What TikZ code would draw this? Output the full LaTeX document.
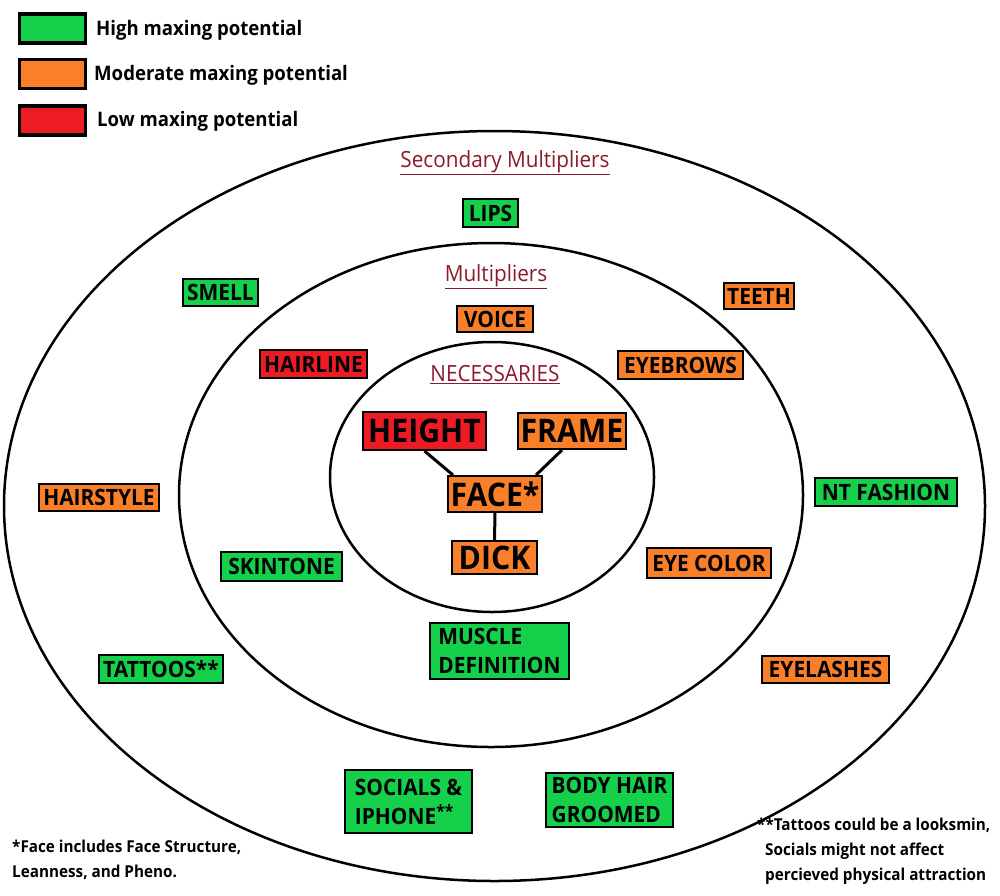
\documentclass[tikz,border=0pt]{standalone}
\usepackage{fontspec}
\setmainfont{Open Sans}
\newfontfamily\boldsans{Open Sans}[FakeStretch=0.93]
\definecolor{hgreen}{RGB}{20,208,75}
\definecolor{morange}{RGB}{249,128,41}
\definecolor{lred}{RGB}{237,28,36}
\definecolor{hdr}{RGB}{139,26,44}
\newcommand{\lblfont}{\boldsans\bfseries\fontsize{22.5}{29}\selectfont}
\newcommand{\bigfont}{\boldsans\bfseries\fontsize{32.5}{34}\selectfont}
\newcommand{\legfont}{\boldsans\bfseries\fontsize{20}{22}\selectfont}
\newcommand{\hdrfont}{\boldsans\fontsize{22.3}{24}\selectfont}
\newcommand{\notefont}{\boldsans\bfseries\fontsize{16.4}{25}\selectfont}
\newcommand{\starsup}{\raisebox{7pt}{\fontsize{17}{17}\selectfont **}}
\tikzset{
  ring/.style={draw=black, line width=2.5pt},
  lbl/.style={draw=black, line width=2pt, inner sep=0pt, font=\lblfont, text=black, align=left},
  big/.style={lbl, font=\bigfont},
  gbox/.style={lbl, fill=hgreen},
  obox/.style={lbl, fill=morange},
  rbox/.style={lbl, fill=lred},
  legbox/.style={draw=black, line width=3.5pt, inner sep=0pt, minimum width=66pt, minimum height=29pt},
  legtxt/.style={anchor=base west, font=\legfont, inner sep=0pt},
  hdrtxt/.style={anchor=base, font=\hdrfont, text=hdr, inner sep=0pt},
  note/.style={anchor=base west, font=\notefont, align=left, inner sep=0pt},
  link/.style={draw=black, line width=3pt}
}
\begin{document}
\begin{tikzpicture}[x=1pt,y=-1pt]
\useasboundingbox[fill=white] (0,0) rectangle (1000,895);
% rings
\draw[ring] (494.5,506) ellipse [x radius=490.5pt, y radius=375pt];
\draw[ring] (491,495) ellipse [x radius=312pt, y radius=252pt];
\draw[ring] (492,477) ellipse [x radius=162pt, y radius=135pt];
% legend
\node[legbox, fill=hgreen] (lg1) at (52.5,28.5) {};
\node[legbox, fill=morange] (lg2) at (52.5,74) {};
\node[legbox, fill=lred] (lg3) at (52.5,120.5) {};
\node[legtxt] (lt1) at (96,35.7) {High maxing potential};
\node[legtxt] (lt2) at (94,80) {Moderate maxing potential};
\node[legtxt] (lt3) at (97,126.7) {Low maxing potential};
% headers
\node[hdrtxt] (h1) at (505,167.3) {\underline{Secondary Multipliers}};
\node[hdrtxt] (h2) at (496,281) {\underline{Multipliers}};
\node[hdrtxt] (h3) at (495,381.7) {\underline{NECESSARIES}};
% secondary
\node[gbox, minimum width=55pt, minimum height=28pt] (lips) at (490.5,213) {LIPS};
\node[gbox, minimum width=75pt, minimum height=27pt] (smell) at (220.5,292.5) {SMELL};
\node[obox, minimum width=70pt, minimum height=26pt] (teeth) at (759,296) {TEETH};
\node[obox, minimum width=120pt, minimum height=27pt] (hairstyle) at (99,497.5) {HAIRSTYLE};
\node[gbox, minimum width=142pt, minimum height=28pt] (ntf) at (886,492) {NT FASHION};
\node[gbox, minimum width=124pt, minimum height=28pt] (tattoos) at (161,669) {TATTOOS**};
\node[obox, minimum width=127pt, minimum height=27pt] (eyelashes) at (825.5,669.5) {EYELASHES};
\node[gbox, minimum width=127pt, minimum height=63pt] (socials) at (408.5,801.5) {SOCIALS \&\\IPHONE\starsup};
\node[gbox, minimum width=127pt, minimum height=54pt] (bodyhair) at (609.5,800) {BODY HAIR\\GROOMED};
% multipliers
\node[obox, minimum width=76pt, minimum height=26pt] (voice) at (495,319) {VOICE};
\node[rbox, minimum width=107pt, minimum height=28pt] (hairline) at (313.5,364) {HAIRLINE};
\node[obox, minimum width=125pt, minimum height=28pt] (eyebrows) at (680.5,365) {EYEBROWS};
\node[gbox, minimum width=121pt, minimum height=29pt] (skintone) at (281.5,566.5) {SKINTONE};
\node[obox, minimum width=124pt, minimum height=30pt] (eyecolor) at (709,563) {EYE COLOR};
\node[gbox, minimum width=139pt, minimum height=56pt] (muscle) at (499.5,651) {MUSCLE\\DEFINITION};
% necessaries
\node[big, fill=lred, minimum width=123pt, minimum height=38pt] (height) at (424.5,431) {HEIGHT};
\node[big, fill=morange, minimum width=108pt, minimum height=36pt] (frame) at (572,431) {FRAME};
\node[big, fill=morange, minimum width=94pt, minimum height=36pt] (face) at (495,494) {FACE*};
\node[big, fill=morange, minimum width=85pt, minimum height=33pt] (dick) at (494.5,557.5) {DICK};
\draw[link] (height.south) -- ([xshift=6pt]face.north west);
\draw[link] ([xshift=-10pt]frame.south) -- ([xshift=-7pt]face.north east);
\draw[link] (face.south) -- (dick.north);
% notes
\node[note] (n1) at (12,877) {*Face includes Face Structure,\\Leanness, and Pheno.};
\node[note] (n2) at (757,880) {**Tattoos could be a looksmin,\\\hspace*{8pt}Socials might not affect\\\hspace*{8pt}percieved physical attraction};
\end{tikzpicture}
\end{document}
